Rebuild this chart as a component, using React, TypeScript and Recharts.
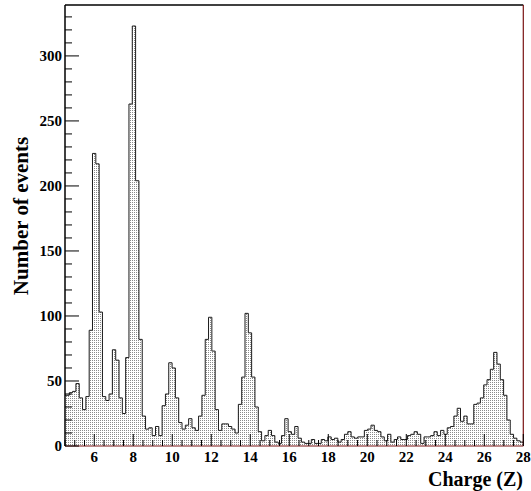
import React from 'react';
import { ComposedChart, Area, XAxis, YAxis, ReferenceLine } from 'recharts';

// histogram: bins of 0.17 in Z starting at 4.38 (first bin partly outside the frame)
const binStart = 4.38;
const binWidth = 0.17;
const counts = [
  39, 39, 41, 42, 48, 37, 28, 38, 89, 225,
  217, 103, 38, 35, 40, 74, 66, 37, 25, 68,
  263, 323, 204, 82, 23, 13, 14, 8, 15, 8,
  31, 40, 64, 60, 37, 18, 13, 16, 21, 14,
  12, 23, 39, 82, 99, 73, 28, 12, 17, 17,
  15, 13, 10, 32, 53, 102, 87, 53, 30, 11,
  4, 8, 12, 8, 3, 2, 8, 21, 11, 9,
  15, 6, 3, 2, 2, 5, 2, 2, 5, 4,
  7, 5, 6, 3, 5, 9, 11, 7, 6, 7,
  7, 12, 13, 16, 12, 11, 7, 4, 9, 3,
  5, 7, 5, 5, 8, 9, 11, 9, 2, 7,
  7, 8, 11, 8, 12, 9, 14, 15, 23, 29,
  19, 23, 17, 17, 32, 33, 37, 47, 51, 59,
  72, 63, 51, 39, 20, 9, 6, 4, 3, 2,
];

const xMajorTicks = [6, 8, 10, 12, 14, 16, 18, 20, 22, 24, 26, 28];
const yMajorTicks = [0, 50, 100, 150, 200, 250, 300];

const xTicks: number[] = [];
for (let t = 4.5; t <= 28.001; t += 0.5) xTicks.push(Math.round(t * 10) / 10);
const yTicks: number[] = [];
for (let t = 0; t <= 330; t += 10) yTicks.push(t);

const histData = counts.map((c, i) => ({ edge: +(binStart + i * binWidth).toFixed(3), count: c }));
histData.push({
  edge: +(binStart + counts.length * binWidth).toFixed(3),
  count: counts[counts.length - 1],
});

const yMax = Math.max(...counts) * 1.05;
const font = '"Liberation Serif", "Times New Roman", serif';

const XTick = (props: any) => {
  const { x, y, payload } = props;
  const major = xMajorTicks.includes(payload.value);
  return (
    <g>
      <line x1={x} x2={x} y1={y} y2={y - (major ? 12 : 6)} stroke="#000" strokeWidth={1} />
      {major && (
        <text x={x} y={y + 16} textAnchor="middle" fontFamily={font} fontWeight="bold" fontSize={15} fill="#000">
          {payload.value}
        </text>
      )}
    </g>
  );
};

const YTick = (props: any) => {
  const { x, y, payload } = props;
  const major = yMajorTicks.includes(payload.value);
  return (
    <g>
      <line x1={x} x2={x + (major ? 14 : 7)} y1={y} y2={y} stroke="#000" strokeWidth={1} />
      {major && (
        <text x={x - 3} y={y + 5} textAnchor="end" fontFamily={font} fontWeight="bold" fontSize={15} fill="#000">
          {payload.value}
        </text>
      )}
    </g>
  );
};

export default function App() {
  return (
    <div style={{ position: 'absolute', left: 0, top: 0, width: 531, height: 491, background: '#fff' }}>
      <ComposedChart
        width={531}
        height={491}
        data={histData}
        margin={{ top: 5, right: 7.7, bottom: 15, left: 5 }}
      >
        <defs>
          <pattern id="dots" width="2" height="2" patternUnits="userSpaceOnUse">
            <rect width="2" height="2" fill="#ffffff" />
            <rect width="1" height="1" fill="#8a8a8a" />
          </pattern>
        </defs>
        <Area
          type="stepAfter"
          dataKey="count"
          baseValue={0}
          fill="url(#dots)"
          fillOpacity={1}
          stroke="#1a1a1a"
          strokeWidth={1}
          isAnimationActive={false}
          dot={false}
          activeDot={false}
        />
        <XAxis
          type="number"
          dataKey="edge"
          domain={[4.5, 28]}
          allowDataOverflow
          ticks={xTicks}
          interval={0}
          tick={<XTick />}
          tickLine={false}
          tickSize={0}
          tickMargin={0}
          height={30}
          axisLine={{ stroke: '#7a1212', strokeWidth: 1.2 }}
        />
        <YAxis
          type="number"
          domain={[0, yMax]}
          allowDataOverflow
          ticks={yTicks}
          interval={0}
          tick={<YTick />}
          tickLine={false}
          tickSize={0}
          tickMargin={0}
          width={60}
          axisLine={{ stroke: '#000', strokeWidth: 1.5 }}
        />
        <ReferenceLine y={yMax} stroke="#000" strokeWidth={1.5} />
        <ReferenceLine x={28} stroke="#7a1212" strokeWidth={1.2} />
        <text
          x={28}
          y={216}
          transform="rotate(-90, 28, 216)"
          textAnchor="middle"
          fontFamily={font}
          fontWeight="bold"
          fontSize={21}
          fill="#000"
        >
          Number of events
        </text>
        <text x={523} y={486} textAnchor="end" fontFamily={font} fontWeight="bold" fontSize={20} fill="#000">
          Charge (Z)
        </text>
      </ComposedChart>
    </div>
  );
}
